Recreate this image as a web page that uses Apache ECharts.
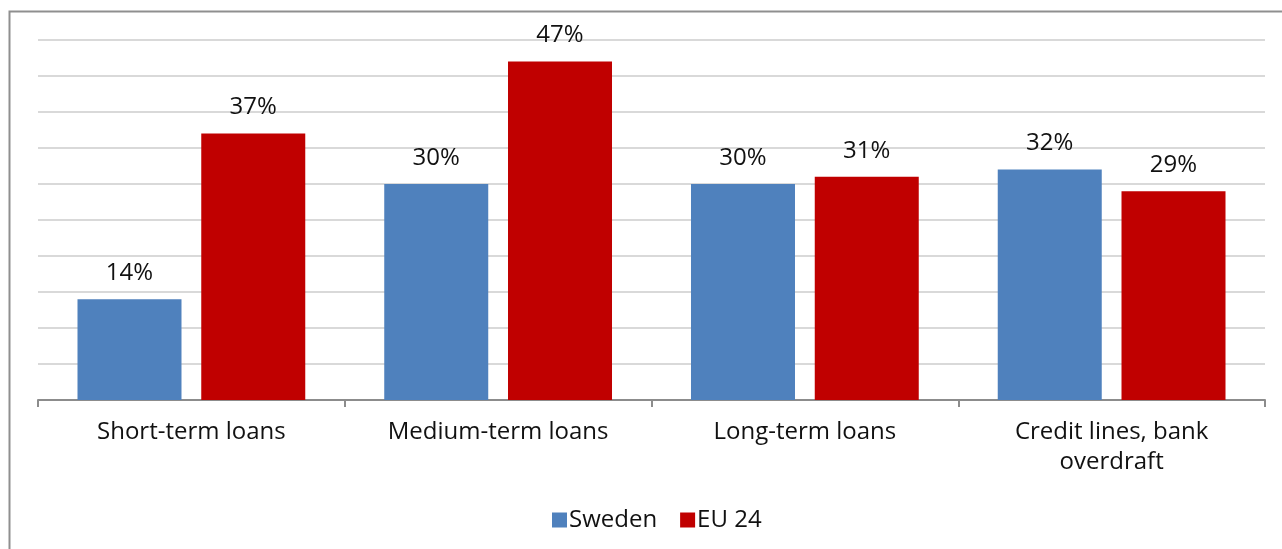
<!DOCTYPE html>
<html>
<head>
<meta charset="utf-8">
<script src="https://cdn.jsdelivr.net/npm/echarts@6/dist/echarts.min.js"></script>
<style>
  html, body { margin: 0; padding: 0; background: #ffffff; }
  #chart { width: 1282px; height: 549px; }
</style>
</head>
<body>
<div id="chart"></div>
<script>
// Loan types and the share of firms using each one
const categories = ['Short-term loans', 'Medium-term loans', 'Long-term loans', 'Credit lines, bank\noverdraft'];
const sweden = [14, 30, 30, 32];
const eu24 = [37, 47, 31, 29];
const seriesNames = ['Sweden', 'EU 24'];

const FONT = '"Open Sans", "Noto Sans", sans-serif';
const chart = echarts.init(document.getElementById('chart'), null, { renderer: 'canvas' });

const labelStyle = {
  show: true,
  position: 'top',
  distance: 14,
  formatter: p => p.value + '%',
  color: '#111111',
  fontFamily: FONT,
  fontSize: 24
};

chart.setOption({
  animation: false,
  backgroundColor: '#ffffff',
  graphic: [{
    type: 'rect',
    silent: true,
    shape: { x: 9.5, y: 11.5, width: 1400, height: 700 },
    style: { fill: 'none', stroke: '#8f8f8f', lineWidth: 2 }
  }],
  grid: { left: 38, right: 17, top: 40, bottom: 149, containLabel: false },
  legend: {
    data: seriesNames,
    left: 547,
    top: 503,
    itemWidth: 15,
    itemHeight: 15,
    itemGap: 23,
    icon: 'rect',
    textStyle: { color: '#111111', fontFamily: FONT, fontSize: 24, padding: [0, 0, 0, -3] }
  },
  xAxis: {
    type: 'category',
    data: categories,
    axisLine: { lineStyle: { color: '#8c8c8c', width: 2 } },
    axisTick: { show: true, length: 7, lineStyle: { color: '#8c8c8c', width: 2 } },
    axisLabel: {
      interval: 0,
      margin: 17,
      color: '#111111',
      fontFamily: FONT,
      fontSize: 24,
      lineHeight: 30,
      align: 'center'
    }
  },
  yAxis: {
    type: 'value',
    min: 0,
    max: 50,
    interval: 5,
    axisLabel: { show: false },
    axisLine: { show: false },
    axisTick: { show: false },
    splitLine: { lineStyle: { color: '#d9d9d9', width: 2 } }
  },
  series: [
    {
      name: seriesNames[0],
      type: 'bar',
      data: sweden,
      barWidth: 104,
      barGap: '19%',
      itemStyle: { color: '#4f81bd' },
      label: labelStyle
    },
    {
      name: seriesNames[1],
      type: 'bar',
      data: eu24,
      barWidth: 104,
      barGap: '19%',
      itemStyle: { color: '#c00000' },
      label: labelStyle
    }
  ]
});
</script>
</body>
</html>
